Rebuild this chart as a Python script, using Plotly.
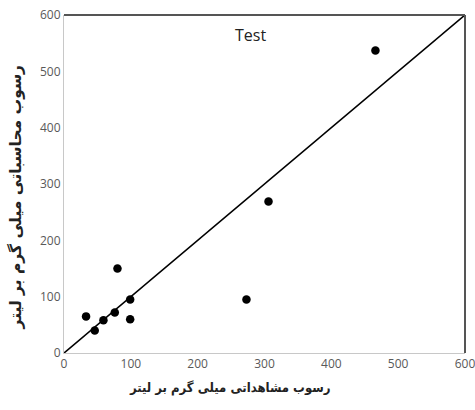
import plotly.graph_objects as go

observed = [33, 46, 59, 76, 80, 99, 99, 273, 306, 466]
computed = [65, 40, 58, 72, 150, 95, 60, 95, 269, 537]
line_x = [0, 600]
line_y = [0, 600]
tick_vals = [0, 100, 200, 300, 400, 500, 600]
title_text = "Test"
x_title = "رسوب مشاهداتی میلی گرم بر لیتر"
y_title = "رسوب محاسباتی میلی گرم بر لیتر"

fig = go.Figure()
fig.add_trace(go.Scatter(x=line_x, y=line_y, mode="lines",
                         line=dict(color="black", width=1.6), showlegend=False, hoverinfo="skip"))
fig.add_trace(go.Scatter(x=observed, y=computed, mode="markers",
                         marker=dict(color="black", size=8.5), showlegend=False))

axis_common = dict(range=[0, 600], tickvals=tick_vals, showgrid=False, zeroline=False,
                   showline=True, linecolor="#c8c8c8", linewidth=1, ticks="",
                   automargin=False, ticklabeloverflow="allow",
                   tickfont=dict(family="Open Sans", size=12, color="#595959"))

fig.update_layout(
    width=475, height=410,
    margin=dict(l=64, r=10, t=15, b=57),
    paper_bgcolor="white", plot_bgcolor="white",
    xaxis=dict(**axis_common),
    yaxis=dict(**axis_common),
    shapes=[
        dict(type="line", xref="paper", yref="paper", x0=0, x1=1, y0=1, y1=1,
             line=dict(color="#555555", width=2)),
        dict(type="line", xref="paper", yref="paper", x0=1, x1=1, y0=0, y1=1,
             line=dict(color="#555555", width=2)),
    ],
    annotations=[
        dict(text=title_text, xref="paper", yref="paper", x=0.465, y=0.94,
             xanchor="center", yanchor="middle",
             showarrow=False, font=dict(family="Open Sans", size=16, color="#222222")),
        dict(text=x_title, xref="paper", yref="paper", x=0.413, y=-0.104,
             xanchor="center", yanchor="middle", showarrow=False,
             font=dict(family="DejaVu Sans Condensed", size=13, color="#222222", weight="bold")),
        dict(text=y_title, xref="paper", yref="paper", x=-0.12, y=0.46, textangle=-90,
             xanchor="center", yanchor="middle", showarrow=False,
             font=dict(family="DejaVu Sans", size=15.5, color="#222222", weight="bold")),
    ],
)

fig.write_html("out.html", config={"displayModeBar": False},
               post_script="document.body.style.margin='0';")
